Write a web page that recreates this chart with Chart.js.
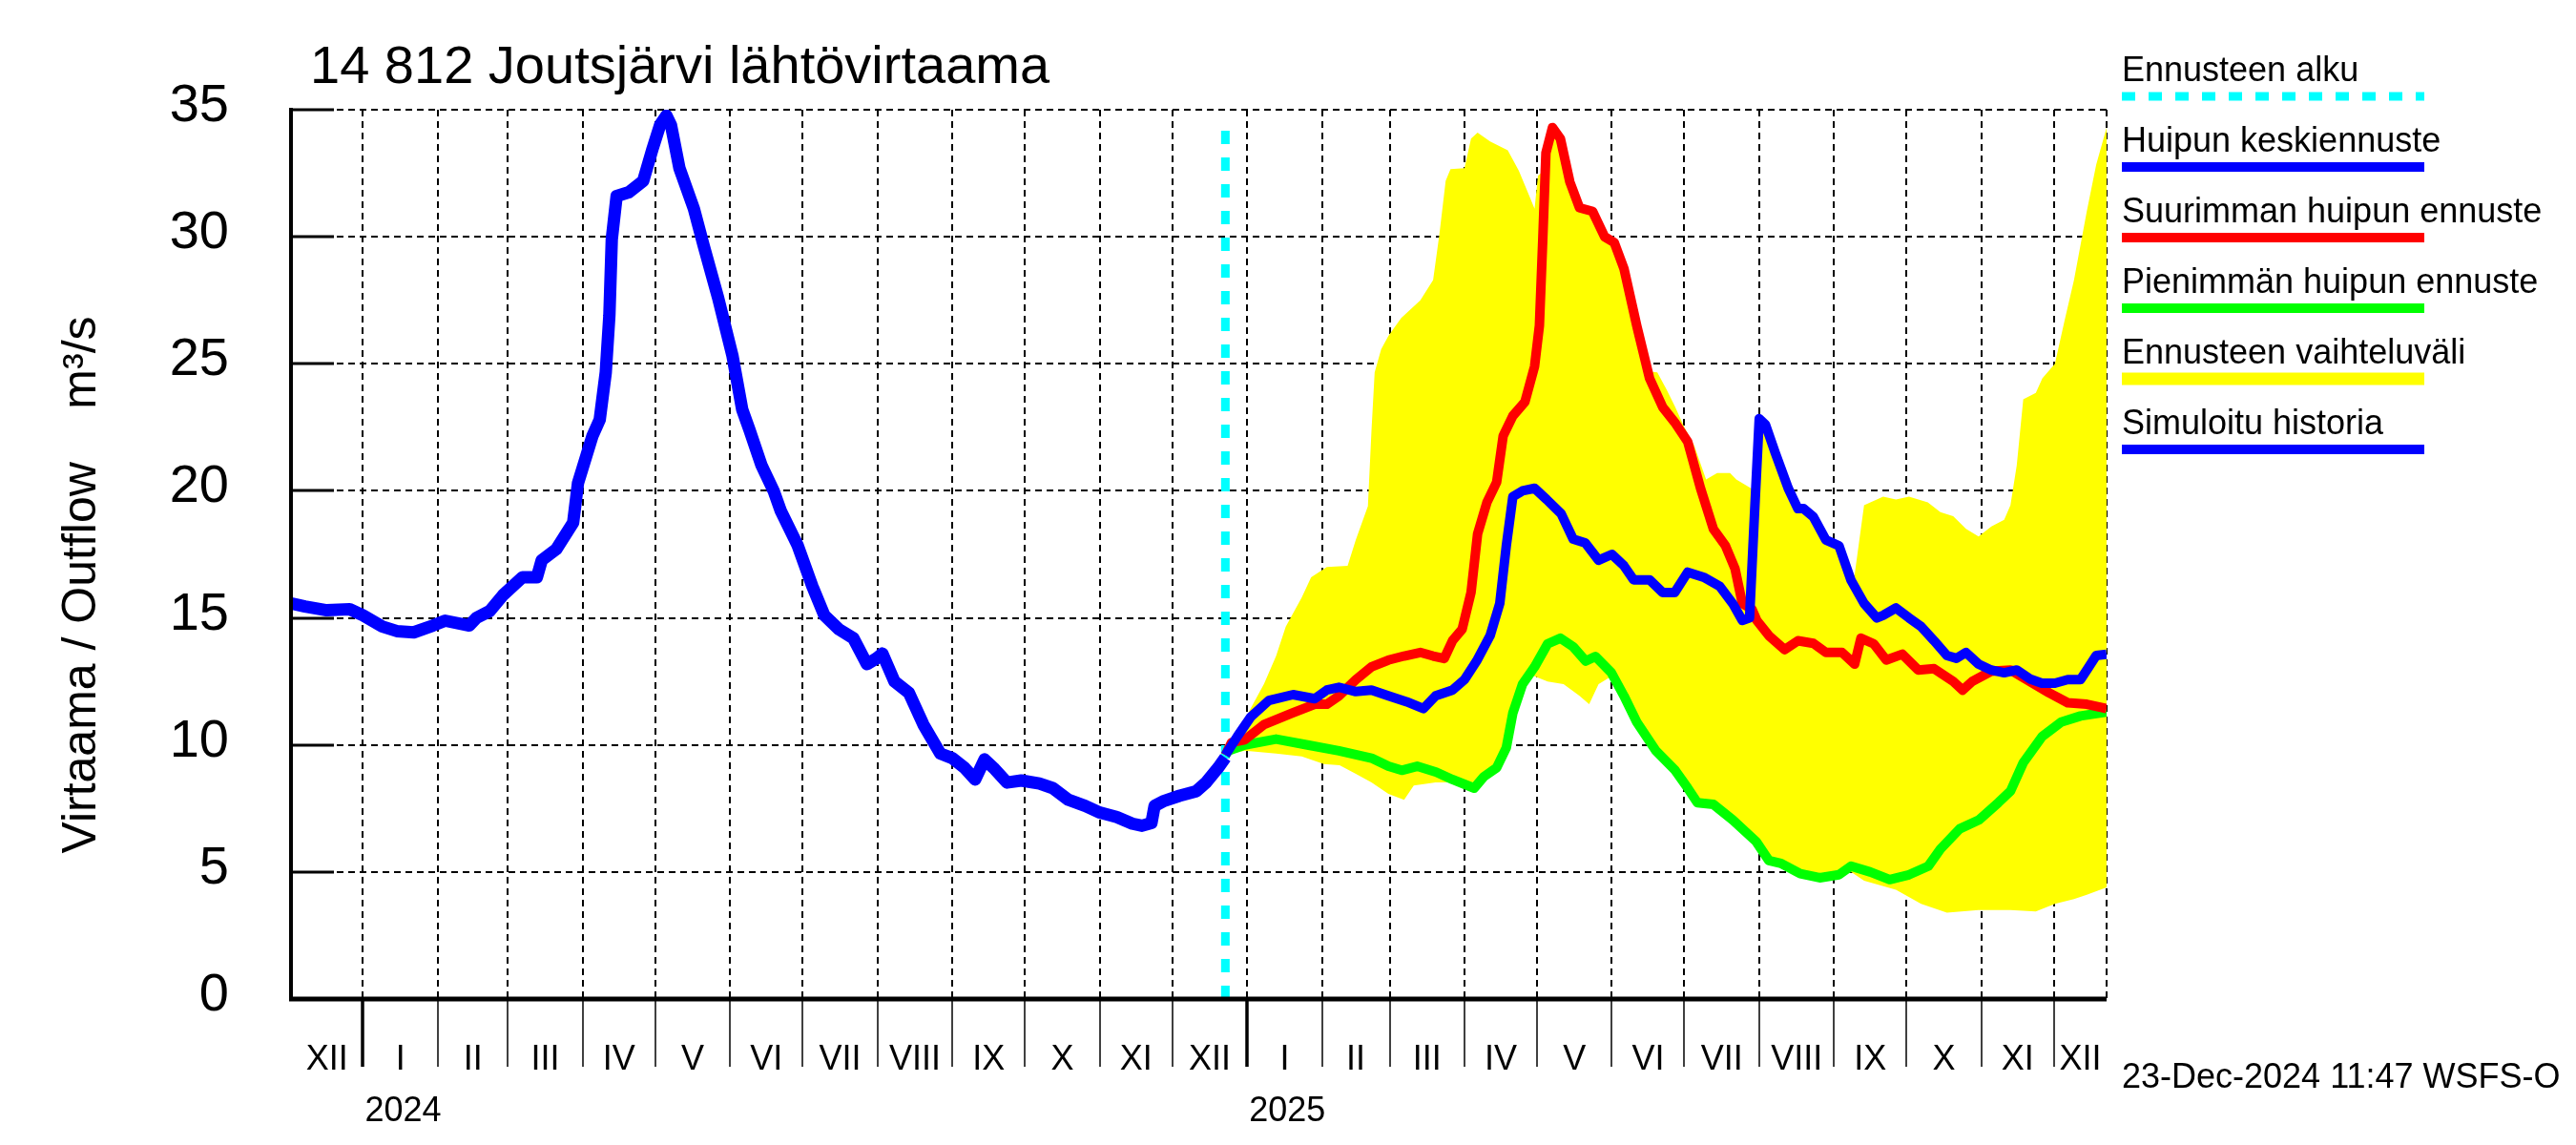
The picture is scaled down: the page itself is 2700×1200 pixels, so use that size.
<!DOCTYPE html>
<html>
<head>
<meta charset="utf-8">
<title>14 812 Joutsjärvi lähtövirtaama</title>
<script src="https://cdn.jsdelivr.net/npm/chart.js@4.4.1/dist/chart.umd.min.js"></script>
<style>
  html, body { margin: 0; padding: 0; background: #fff; }
  canvas { display: block; }
</style>
</head>
<body>
<canvas id="chart" width="2700" height="1200"></canvas>
<script>
// Joutsjärvi outflow chart, m3/s
// x = days from 1 Jan 2024

const historyPoints = [
  [-29.8, 15.57], [-24, 15.45], [-15, 15.3], [-5.5, 15.34], [0, 15.1], [8, 14.66], [14, 14.48],
  [21, 14.43], [29, 14.7], [34, 14.89], [44, 14.7], [47, 15.0], [52.5, 15.27], [58, 15.9],
  [66, 16.6], [72, 16.6], [74, 17.27], [80, 17.7], [87, 18.75], [89, 20.3], [95, 22.16],
  [98, 22.8], [100.5, 24.66], [102, 26.9], [103, 29.9], [105, 31.6], [110, 31.75], [116, 32.2],
  [120, 33.5], [123, 34.4], [125.6, 34.77], [127.5, 34.4], [131, 32.7], [137, 31.1], [141, 29.66],
  [147, 27.6], [153, 25.3], [157, 23.2], [160, 22.4], [165, 21.0], [170, 20.0], [173, 19.2],
  [180, 17.84], [186, 16.25], [191, 15.1], [197, 14.55], [203, 14.2], [208.6, 13.18], [212.5, 13.4],
  [215, 13.6], [220, 12.5], [226, 12.05], [232, 10.8], [239, 9.66], [244, 9.48], [249, 9.1],
  [253.4, 8.64], [257.3, 9.43], [261, 9.1], [266.6, 8.52], [272.5, 8.6], [280, 8.48], [285.6, 8.3],
  [292, 7.84], [299, 7.6], [305, 7.34], [312, 7.16], [318.5, 6.9], [322.5, 6.82], [326.4, 6.93],
  [327.7, 7.6], [331.7, 7.8], [338, 8.0], [345, 8.18], [349, 8.52], [354, 9.1], [357, 9.5]
];

const meanPoints = [
  [357, 9.6], [362, 10.34], [367.5, 11.1], [375, 11.75], [385, 11.98], [394, 11.82], [399, 12.16],
  [404, 12.27], [411, 12.1], [417.5, 12.16], [424.5, 11.93], [432, 11.7], [439, 11.43], [444, 11.93],
  [451, 12.16], [456, 12.57], [461, 13.3], [466.6, 14.3], [470.6, 15.57], [473.3, 17.84], [476, 19.77],
  [480, 20.0], [485, 20.1], [490, 19.66], [496, 19.1], [501, 18.1], [506, 17.95], [511.5, 17.27],
  [517, 17.5], [522, 17.05], [526, 16.5], [532.6, 16.5], [538, 16.0], [543, 16.0], [548.4, 16.8],
  [555, 16.6], [561.6, 16.25], [567, 15.57], [571, 14.9], [574, 15.0], [576, 19.0], [578, 22.84],
  [580.6, 22.6], [584.6, 21.5], [590, 20.1], [594, 19.3], [596.4, 19.3], [600.4, 18.98], [605.6, 18.07],
  [611, 17.84], [616, 16.48], [621.4, 15.57], [626.7, 15.0], [629.3, 15.1], [634.6, 15.39], [640, 15.0],
  [645, 14.66], [650.4, 14.1], [655.7, 13.52], [659.6, 13.41], [663.6, 13.64], [668.8, 13.18], [674, 12.95],
  [679.4, 12.84], [684.6, 12.95], [690, 12.6], [695, 12.43], [700.4, 12.43], [705.7, 12.57], [711, 12.57],
  [713.6, 12.95], [717.5, 13.52], [721.8, 13.57]
];

const maxPoints = [
  [357, 9.6], [359.6, 10.1], [365, 10.2], [373, 10.8], [384.6, 11.25], [394, 11.6], [399, 11.6],
  [404, 11.93], [411, 12.57], [417.5, 13.07], [424.5, 13.34], [431, 13.5], [437.7, 13.64], [443, 13.5],
  [447.6, 13.4], [451, 14.1], [455, 14.55], [458.7, 16.0], [461.4, 18.3], [465.3, 19.55], [469.3, 20.34],
  [472, 22.16], [476, 22.95], [481, 23.5], [485, 24.9], [487, 26.5], [488.4, 29.9], [489.7, 33.3],
  [492.4, 34.3], [495.7, 33.86], [499.6, 32.16], [503.6, 31.14], [509, 31.0], [514, 30.0], [518, 29.77],
  [522, 28.75], [527.3, 26.5], [532.6, 24.43], [538, 23.3], [543, 22.7], [548.4, 21.93], [553.7, 20.1],
  [559, 18.5], [564, 17.84], [568, 16.93], [571, 15.57], [575, 15.34], [577, 14.9], [582, 14.3],
  [588.5, 13.75], [594, 14.1], [600.4, 14.0], [605.6, 13.64], [612.3, 13.64], [617.5, 13.18], [620.1, 14.2],
  [625.4, 13.98], [630.6, 13.34], [637.2, 13.57], [643.8, 12.95], [650.4, 13.0], [658.3, 12.5], [662.2, 12.16],
  [666.2, 12.5], [674, 12.9], [682, 12.95], [690, 12.5], [698, 12.05], [705.7, 11.66], [713.6, 11.6],
  [721.8, 11.43]
];

const minPoints = [
  [357, 9.6], [358.3, 9.77], [365, 10.0], [378, 10.23], [391, 10.0], [404, 9.77], [417.5, 9.48],
  [424.5, 9.16], [430, 9.0], [436.4, 9.16], [444.3, 8.93], [451, 8.64], [460, 8.3], [464, 8.75],
  [469.3, 9.1], [473.3, 9.89], [476, 11.25], [480, 12.39], [485, 13.07], [490.4, 13.98], [495.7, 14.2],
  [501, 13.86], [506.2, 13.3], [510.2, 13.48], [516.8, 12.84], [522, 11.93], [527.3, 10.9], [535.2, 9.77],
  [543.2, 9.0], [548.4, 8.3], [552.4, 7.73], [559, 7.66], [567, 7.05], [576.7, 6.2], [582, 5.45],
  [587, 5.34], [595, 4.93], [603, 4.77], [611, 4.89], [616, 5.23], [624, 5.0], [632, 4.7],
  [640, 4.89], [648, 5.23], [653, 5.9], [661, 6.7], [669, 7.05], [677, 7.73], [682, 8.18],
  [687.3, 9.3], [695.2, 10.34], [703, 10.9], [711, 11.14], [721.8, 11.3]
];

const rangeHigh = [
  [357, 9.8], [358.3, 10.0], [365, 11.0], [373, 12.4], [378, 13.5], [382, 14.66], [388.6, 15.8],
  [392.5, 16.6], [399, 17.0], [407.6, 17.05], [411, 18.07], [416, 19.4], [417.5, 22.4], [418.8, 24.66],
  [421.5, 25.57], [424.5, 26.1], [429.8, 26.8], [437.7, 27.5], [443, 28.3], [445.6, 30.1], [448.2, 32.2],
  [450.2, 32.66], [456, 32.7], [458.7, 33.86], [461.4, 34.1], [466.6, 33.75], [473.9, 33.4], [478.5, 32.6],
  [482.4, 31.7], [485, 31.1], [486.4, 32.4], [488.8, 32.6], [489.7, 33.3], [492.4, 34.3], [495.7, 33.86],
  [499.6, 32.16], [503.6, 31.14], [509, 31.0], [514, 30.0], [518, 29.77], [522, 28.75], [527.3, 26.5],
  [532, 24.7], [535.8, 24.66], [539.7, 23.98], [543.2, 23.3], [547, 22.5], [551, 21.8], [556, 20.45],
  [560.6, 20.7], [565.9, 20.7], [568.5, 20.45], [574.6, 20.1], [577, 20.1], [578, 22.84], [580.6, 22.6],
  [584.6, 21.5], [590, 20.1], [594, 19.3], [600.4, 18.98], [605.6, 18.07], [611, 17.84], [616, 16.6],
  [617.5, 16.7], [621.4, 19.43], [629.3, 19.77], [634.6, 19.66], [640, 19.77], [647.8, 19.55], [653, 19.16],
  [658.3, 19.0], [663.6, 18.5], [668.8, 18.2], [674.1, 18.6], [679.4, 18.86], [682, 19.43], [684.6, 21.0],
  [687.3, 23.6], [692.5, 23.86], [695.2, 24.43], [700.4, 25.0], [704.4, 26.7], [708.3, 28.3], [713.6, 31.0],
  [717.5, 32.84], [721.8, 34.3]
];

const rangeLow = [
  [357, 9.6], [365, 9.77], [378, 9.66], [388.6, 9.55], [397.8, 9.25], [404.3, 9.2], [411, 8.86],
  [417.5, 8.52], [424.5, 8.07], [431, 7.84], [435, 8.4], [444, 8.52], [451, 8.52], [455, 8.4],
  [460, 8.2], [464, 8.6], [469.3, 9.0], [473.3, 9.8], [476, 11.1], [480, 12.3], [483, 12.8],
  [485, 12.7], [490.4, 12.5], [497, 12.39], [503.6, 11.93], [507.6, 11.6], [511.5, 12.39], [516.8, 12.7],
  [522, 11.83], [527.3, 10.8], [535.2, 9.67], [543.2, 8.9], [548.4, 8.2], [552.4, 7.63], [559, 7.56],
  [567, 6.95], [576.7, 6.1], [582, 5.35], [587, 5.24], [595, 4.83], [603, 4.67], [611, 4.79],
  [616, 5.0], [621.4, 4.66], [634.6, 4.3], [645, 3.75], [655.7, 3.4], [668.8, 3.5], [682, 3.5],
  [692.5, 3.45], [700.4, 3.75], [708.3, 3.93], [713.6, 4.1], [721.8, 4.39]
];

const forecastStart = 357;   // 23 Dec 2024
const forecastLine = [[forecastStart, 0], [forecastStart, 34.55]];

const yTicks = [0, 5, 10, 15, 20, 25, 30, 35];
const monthStarts = [-31, 0, 31, 60, 91, 121, 152, 182, 213, 244, 274, 305, 335,
  366, 397, 425, 456, 486, 517, 547, 578, 609, 639, 670, 700, 731];
const monthNames = ['XII', 'I', 'II', 'III', 'IV', 'V', 'VI', 'VII', 'VIII', 'IX', 'X', 'XI', 'XII',
  'I', 'II', 'III', 'IV', 'V', 'VI', 'VII', 'VIII', 'IX', 'X', 'XI', 'XII'];
const yearStarts = [0, 366];
const yearNames = ['2024', '2025'];

const legendItems = [
  { label: 'Ennusteen alku', color: '#00ffff', width: 9, dash: [14, 14] },
  { label: 'Huipun keskiennuste', color: '#0000ff', width: 10 },
  { label: 'Suurimman huipun ennuste', color: '#ff0000', width: 10 },
  { label: 'Pienimmän huipun ennuste', color: '#00ff00', width: 10 },
  { label: 'Ennusteen vaihteluväli', color: '#ffff00', width: 13 },
  { label: 'Simuloitu historia', color: '#0000ff', width: 10 }
];

const FONT = '"Liberation Sans", Arial, Helvetica, sans-serif';

function toXY(points) {
  return points.map(p => ({ x: p[0], y: p[1] }));
}

function line(ctx, x1, y1, x2, y2) {
  ctx.beginPath();
  ctx.moveTo(x1, y1);
  ctx.lineTo(x2, y2);
  ctx.stroke();
}

// ==================== DECORATION PLUGIN ====================

const decorations = {
  id: 'decorations',

  beforeDatasetsDraw(chart) {
    const { ctx, chartArea: a, scales: { x, y } } = chart;
    ctx.save();
    ctx.strokeStyle = '#000';
    ctx.lineWidth = 2;
    ctx.setLineDash([7, 5]);
    yTicks.forEach(v => {
      if (v === 0) return;
      const py = Math.round(y.getPixelForValue(v));
      line(ctx, a.left, py, a.right, py);
    });
    monthStarts.forEach(d => {
      if (d <= x.min || d >= x.max) return;
      const px = Math.round(x.getPixelForValue(d));
      line(ctx, px, a.top, px, a.bottom);
    });
    line(ctx, a.right, a.top, a.right, a.bottom);
    ctx.restore();
  },

  afterDatasetsDraw(chart) {
    const { ctx, chartArea: a, scales: { x, y } } = chart;
    ctx.save();
    ctx.strokeStyle = '#000';
    ctx.setLineDash([]);

    // axes
    ctx.lineWidth = 4;
    line(ctx, a.left, a.top - 2, a.left, a.bottom + 2);
    ctx.lineWidth = 5;
    line(ctx, a.left - 2, a.bottom, a.right, a.bottom);

    // inward y ticks
    ctx.lineWidth = 3;
    yTicks.forEach(v => {
      const py = Math.round(y.getPixelForValue(v));
      line(ctx, a.left, py, a.left + 45, py);
    });

    // month ticks below the axis
    monthStarts.forEach(d => {
      if (d <= x.min || d >= x.max) return;
      const px = Math.round(x.getPixelForValue(d));
      ctx.lineWidth = yearStarts.includes(d) ? 3.5 : 1.5;
      line(ctx, px, a.bottom, px, a.bottom + 71);
    });
    ctx.restore();
  },

  afterDraw(chart) {
    const { ctx, chartArea: a, scales: { x, y } } = chart;
    ctx.save();
    ctx.fillStyle = '#000';

    // y tick labels
    ctx.font = `56px ${FONT}`;
    ctx.textAlign = 'right';
    ctx.textBaseline = 'alphabetic';
    yTicks.forEach(v => {
      ctx.fillText(String(v), 240, y.getPixelForValue(v) + 12);
    });

    // month labels
    ctx.font = `36px ${FONT}`;
    ctx.textAlign = 'center';
    monthNames.forEach((name, i) => {
      const s = Math.max(monthStarts[i], x.min);
      const e = Math.min(monthStarts[i + 1], x.max);
      const cx = (x.getPixelForValue(s) + x.getPixelForValue(e)) / 2;
      ctx.fillText(name, cx, a.bottom + 74);
    });

    // year labels
    ctx.textAlign = 'left';
    yearStarts.forEach((d, i) => {
      ctx.fillText(yearNames[i], x.getPixelForValue(d) + 2, a.bottom + 128);
    });

    // title
    ctx.font = `56px ${FONT}`;
    ctx.fillText('14 812 Joutsjärvi lähtövirtaama', 325, 87);

    // y axis title
    ctx.save();
    ctx.font = `50px ${FONT}`;
    ctx.translate(100, 613);
    ctx.rotate(-Math.PI / 2);
    ctx.textAlign = 'center';
    ctx.fillText('Virtaama / Outflow    m³/s', 0, 0);
    ctx.restore();

    // legend
    const lx = 2224, lw = 317;
    legendItems.forEach((item, i) => {
      const ly = 101 + i * 74;
      ctx.font = `36px ${FONT}`;
      ctx.textAlign = 'left';
      ctx.fillStyle = '#000';
      ctx.fillText(item.label, lx, ly - 16);
      ctx.strokeStyle = item.color;
      ctx.lineWidth = item.width;
      ctx.lineCap = 'butt';
      ctx.setLineDash(item.dash || []);
      line(ctx, lx, ly, lx + lw, ly);
    });
    ctx.setLineDash([]);

    // timestamp
    ctx.fillStyle = '#000';
    ctx.font = `36px ${FONT}`;
    ctx.fillText('23-Dec-2024 11:47 WSFS-O', 2224, 1140);
    ctx.restore();
  }
};

// ==================== CHART ====================

const lineStyle = { pointRadius: 0, pointHoverRadius: 0, tension: 0, fill: false, borderJoinStyle: 'round' };

new Chart(document.getElementById('chart').getContext('2d'), {
  type: 'line',
  data: {
    datasets: [
      { ...lineStyle, label: 'Simuloitu historia', data: toXY(historyPoints),
        borderColor: '#0000ff', borderWidth: 13 },
      { ...lineStyle, label: 'Huipun keskiennuste', data: toXY(meanPoints),
        borderColor: '#0000ff', borderWidth: 10 },
      { ...lineStyle, label: 'Suurimman huipun ennuste', data: toXY(maxPoints),
        borderColor: '#ff0000', borderWidth: 10 },
      { ...lineStyle, label: 'Pienimmän huipun ennuste', data: toXY(minPoints),
        borderColor: '#00ff00', borderWidth: 10 },
      { ...lineStyle, label: 'Ennusteen alku', data: toXY(forecastLine),
        borderColor: '#00ffff', borderWidth: 9, borderDash: [14, 14], borderCapStyle: 'butt' },
      { ...lineStyle, label: 'Ennusteen vaihteluväli', data: toXY(rangeHigh),
        borderWidth: 0, borderColor: 'rgba(0,0,0,0)', backgroundColor: '#ffff00', fill: '+1' },
      { ...lineStyle, label: 'range low', data: toXY(rangeLow),
        borderWidth: 0, borderColor: 'rgba(0,0,0,0)' }
    ]
  },
  options: {
    responsive: false,
    animation: false,
    devicePixelRatio: 1,
    layout: { padding: { left: 305, right: 492, top: 115, bottom: 153 } },
    scales: {
      x: { type: 'linear', min: -29.8, max: 721.8, display: false },
      y: { type: 'linear', min: 0, max: 35, display: false }
    },
    plugins: {
      legend: { display: false },
      tooltip: { enabled: false },
      title: { display: false }
    }
  },
  plugins: [decorations]
});
</script>
</body>
</html>
